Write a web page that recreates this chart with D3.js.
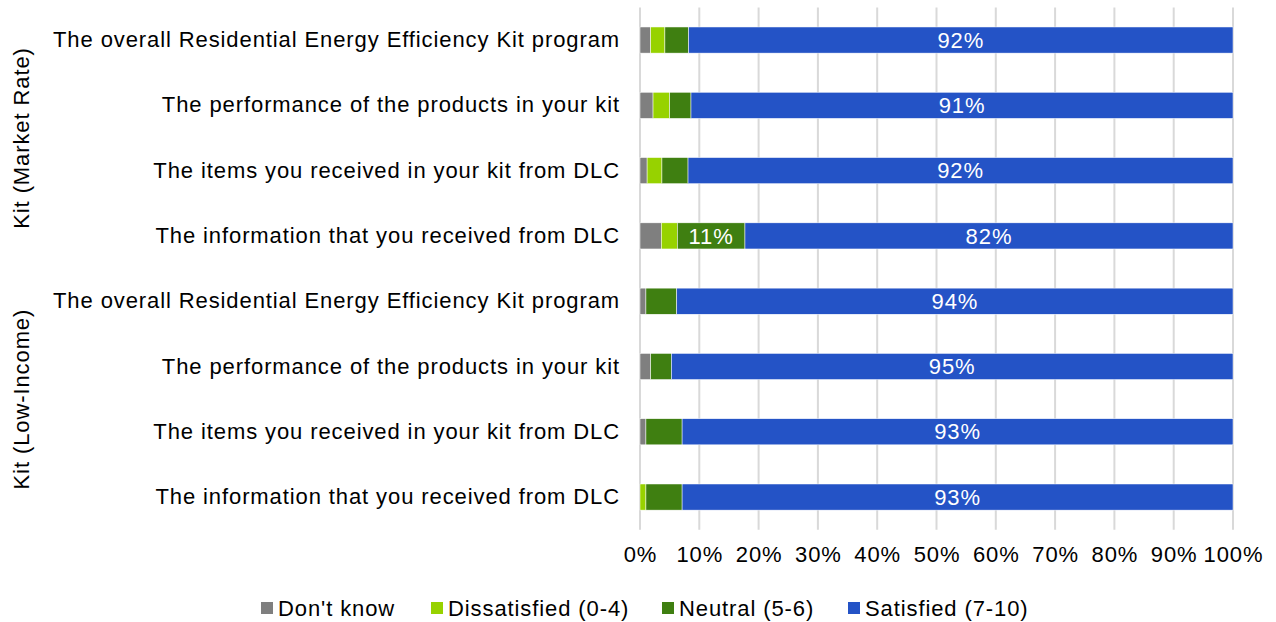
<!DOCTYPE html>
<html lang="en">
<head>
    <meta charset="UTF-8">
    <title>Satisfaction with kit</title>
    <script src="https://d3js.org/d3.v7.min.js"></script>
    <style>
        body {
            margin: 0;
            font-family: "Liberation Sans", Arial, sans-serif;
            background: #fff;
        }
        svg { display: block; }
        text { font-size: 22px; letter-spacing: 0.9px; }
        .seg-label { fill: #fff; text-anchor: middle; }
    </style>
</head>
<body>
    <svg id="chart"></svg>
    <script>
        // categories (top to bottom)
        const questions = [
            "The overall Residential Energy Efficiency Kit program",
            "The performance of the products in your kit",
            "The items you received in your kit from DLC",
            "The information that you received from DLC",
            "The overall Residential Energy Efficiency Kit program",
            "The performance of the products in your kit",
            "The items you received in your kit from DLC",
            "The information that you received from DLC"
        ];
        const groups = ["Kit (Market Rate)", "Kit (Market Rate)", "Kit (Market Rate)", "Kit (Market Rate)",
                        "Kit (Low-Income)", "Kit (Low-Income)", "Kit (Low-Income)", "Kit (Low-Income)"];

        const seriesNames = ["Don't know", "Dissatisfied (0-4)", "Neutral (5-6)", "Satisfied (7-10)"];
        const seriesColors = ["#7f7f7f", "#97d200", "#3f7f11", "#2453c6"];

        // percentages per series, same order as questions
        const dontKnow     = [1.8, 2.2, 1.2, 3.6, 1.0, 1.8, 1.0, 0.0];
        const dissatisfied = [2.4, 2.8, 2.5, 2.7, 0.0, 0.0, 0.0, 1.0];
        const neutral      = [4.0, 3.6, 4.4, 11.4, 5.2, 3.5, 6.1, 6.1];
        const satisfied    = [91.8, 91.4, 91.9, 82.3, 93.8, 94.7, 92.9, 92.9];

        const xTicks = [0, 10, 20, 30, 40, 50, 60, 70, 80, 90, 100];

        const width = 1276, height = 622;
        const svg = d3.select("#chart").attr("width", width).attr("height", height);

        const rows = questions.map((q, i) => ({
            key: i, question: q, group: groups[i],
            vals: [dontKnow[i], dissatisfied[i], neutral[i], satisfied[i]]
        }));

        const x = d3.scaleLinear().domain([0, 100]).range([640, 1233]);
        const y = d3.scaleBand()
            .domain(rows.map(d => d.key))
            .range([7.4, 529.7])
            .paddingInner(0.6)
            .paddingOuter(0.3);

        // gridlines
        svg.append("g")
            .selectAll("line")
            .data(xTicks)
            .join("line")
            .attr("x1", d => x(d)).attr("x2", d => x(d))
            .attr("y1", 7.4).attr("y2", 529.7)
            .attr("stroke", "#d9d9d9")
            .attr("stroke-width", 2);

        // stacked bars
        const stackData = rows.map(r => {
            let acc = 0;
            return r.vals.map((v, j) => {
                const s = { key: r.key, series: j, x0: acc, x1: acc + v, v: v };
                acc += v;
                return s;
            });
        }).flat();

        svg.append("g")
            .selectAll("rect")
            .data(stackData.filter(d => d.v > 0))
            .join("rect")
            .attr("x", d => x(d.x0))
            .attr("y", d => y(d.key))
            .attr("width", d => x(d.x1) - x(d.x0))
            .attr("height", y.bandwidth())
            .attr("fill", d => seriesColors[d.series])
            .attr("stroke", "#fff")
            .attr("stroke-width", 0.5);

        // labels for segments >= 10%
        svg.append("g")
            .selectAll("text")
            .data(stackData.filter(d => d.v >= 10))
            .join("text")
            .attr("class", "seg-label")
            .attr("x", d => (x(d.x0) + x(d.x1)) / 2)
            .attr("y", d => y(d.key) + y.bandwidth() / 2)
            .attr("dy", "0.35em")
            .text(d => Math.round(d.v) + "%");

        const fontAttrs = sel => sel
            .attr("font-size", 22)
            .attr("font-family", "Liberation Sans, Arial, sans-serif")
            .attr("fill", "#000");

        // category labels
        const yAxis = svg.append("g")
            .attr("transform", `translate(${x(0)},0)`)
            .call(d3.axisLeft(y).tickSize(0).tickPadding(20).tickFormat(k => questions[k]));
        yAxis.select(".domain").remove();
        yAxis.selectAll("text").call(fontAttrs);

        // x axis
        const xAxis = svg.append("g")
            .attr("transform", `translate(0,529.7)`)
            .call(d3.axisBottom(x).tickValues(xTicks).tickSize(0).tickPadding(17).tickFormat(d => d + "%"));
        xAxis.select(".domain").remove();
        xAxis.selectAll("text").call(fontAttrs);

        // group labels
        const groupNames = Array.from(new Set(groups));
        groupNames.forEach(g => {
            const keys = rows.filter(r => r.group === g).map(r => r.key);
            const y0 = y(keys[0]) - y.step() * 0.3;
            const y1 = y(keys[keys.length - 1]) + y.bandwidth() + y.step() * 0.3;
            const cy = (y0 + y1) / 2;
            svg.append("text")
                .attr("transform", `translate(29,${cy}) rotate(-90)`)
                .attr("text-anchor", "middle")
                .text(g);
        });

        // legend
        const legendX = [261, 431, 662, 848];
        const legend = svg.append("g")
            .selectAll("g")
            .data(seriesNames)
            .join("g")
            .attr("transform", (d, i) => `translate(${legendX[i]},602)`);
        legend.append("rect")
            .attr("width", 12).attr("height", 12)
            .attr("fill", (d, i) => seriesColors[i]);
        legend.append("text")
            .attr("x", 17).attr("y", 6)
            .attr("dy", "0.35em")
            .text(d => d);
    </script>
</body>
</html>
